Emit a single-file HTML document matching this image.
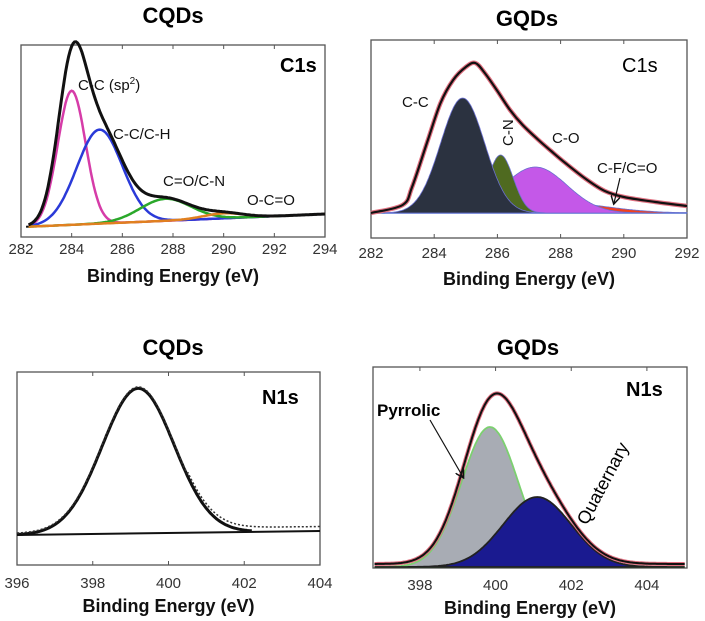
<!DOCTYPE html>
<html><head><meta charset="utf-8"><style>
body{margin:0;background:#fff;width:705px;height:621px;overflow:hidden}
svg{display:block;font-family:"Liberation Sans",sans-serif}
.t{font-weight:bold;font-size:22px;text-anchor:middle}
.ax{font-weight:bold;font-size:18px;text-anchor:middle;fill:#111}
.tk{font-size:15px;fill:#333;text-anchor:middle}
.an{font-size:15px;fill:#111}
</style></head><body>
<svg id="fig" width="705" height="621" viewBox="0 0 705 621">
<defs><marker id="ah" markerWidth="8" markerHeight="8" refX="6" refY="4" orient="auto"><path d="M0,0 L7,4 L0,8" fill="none" stroke="#111" stroke-width="1.2"/></marker></defs>
<text class="t" x="173" y="23">CQDs</text>
<text class="t" x="527" y="26">GQDs</text>
<text class="t" x="173" y="355">CQDs</text>
<text class="t" x="528" y="355">GQDs</text>
<g id="p1"></g><g id="p2"></g><g id="p3"></g><g id="p4"></g>
<text class="an" x="78" y="90">C-C (sp<tspan dy="-6" font-size="10">2</tspan><tspan dy="6">)</tspan></text>
<text class="an" x="113" y="139">C-C/C-H</text>
<text class="an" x="163" y="186">C=O/C-N</text>
<text class="an" x="247" y="205">O-C=O</text>
<text x="280" y="72" font-weight="bold" font-size="20">C1s</text>
<text x="622" y="72" font-size="20">C1s</text>
<text class="an" x="402" y="107">C-C</text>
<text class="an" transform="translate(513,146) rotate(-90)">C-N</text>
<text class="an" x="552" y="143">C-O</text>
<text class="an" x="597" y="173">C-F/C=O</text>
<line x1="620" y1="178" x2="614" y2="203" stroke="#111" stroke-width="1.2" marker-end="url(#ah)"/>
<text x="262" y="404" font-weight="bold" font-size="20">N1s</text>
<text x="626" y="396" font-weight="bold" font-size="20">N1s</text>
<text x="377" y="416" font-weight="bold" font-size="17">Pyrrolic</text>
<line x1="430" y1="420" x2="463" y2="477" stroke="#111" stroke-width="1.2" marker-end="url(#ah)"/>
<text font-size="18" transform="translate(587,526) rotate(-62)">Quaternary</text>
</svg>
<script>
// Panel 1: CQDs C1s components [center eV, height, sigma]
const p1Centers=[284.0,285.1,287.7,290.0];
const p1Heights=[134,94,22,5];
const p1Sigmas=[0.55,0.9,1.0,0.8];
const p1Colors=["#d63ca8","#2a3ad8","#2aa82a","#e08020"];
const p1Ticks=[282,284,286,288,290,292,294];
// Panel 2: GQDs C1s
const p2Centers=[284.9,286.1,287.2,288.0];
const p2Heights=[115,58,46,10];
const p2Sigmas=[0.7,0.4,1.0,1.5];
const p2Fill=["#2b3240","#4f6a20","#c458e8","#f04020"];
const p2EnvE=[282,283,283.3,283.8,284.2,284.6,285.0,285.3,285.6,286.0,286.4,286.8,287.3,287.7,288.15,288.8,289.4,290,291,292];
const p2EnvH=[0,8,26,73,110,133,146,150,140,122,103,88,73,62,50,34,22,16,11,7];
const p2Ticks=[282,284,286,288,290,292];
// Panel 3: CQDs N1s
const p3Centers=[399.2];const p3Heights=[145];const p3Sigmas=[0.95];
const p3Ticks=[396,398,400,402,404];
// Panel 4: GQDs N1s
const p4Centers=[399.85,401.1];const p4Heights=[140,70];const p4Sigmas=[0.75,0.9];
const p4Ticks=[398,400,402,404];

const NS="http://www.w3.org/2000/svg";
function mk(g,tag,at){const e=document.createElementNS(NS,tag);for(const k in at)e.setAttribute(k,at[k]);g.appendChild(e);return e;}
function gau(x,c,h,s){return h*Math.exp(-(x-c)*(x-c)/(2*s*s));}
function panel(id,box,xr,ticks,tickY,axY){
  const g=document.getElementById(id);
  const sx=v=>box[0]+(v-xr[0])/(xr[1]-xr[0])*(box[2]-box[0]);
  const r=mk(g,'rect',{x:box[0],y:box[1],width:box[2]-box[0],height:box[3]-box[1],fill:'none',stroke:'#555','stroke-width':1.3});
  
  
  ticks.forEach(t=>{
    const tx=mk(g,'text',{class:'tk',x:sx(t),y:tickY});tx.textContent=t;
    
    
    mk(g,'line',{x1:sx(t),x2:sx(t),y1:box[3],y2:box[3]-4,stroke:'#555'});
    mk(g,'line',{x1:sx(t),x2:sx(t),y1:box[1],y2:box[1]+4,stroke:'#555'});
  });
  const a=mk(g,'text',{class:'ax',x:(box[0]+box[2])/2,y:axY});a.textContent='Binding Energy (eV)';
  
  
  return {g,sx};
}
function pts(sx,x0,x1,fy){let p=[];for(let i=0;i<=200;i++){const x=x0+(x1-x0)*i/200;p.push(sx(x).toFixed(1)+','+fy(x).toFixed(1));}return p;}
function smooth(P){let d='M'+P[0][0]+','+P[0][1];for(let i=0;i<P.length-1;i++){const p0=P[Math.max(0,i-1)],p1=P[i],p2=P[i+1],p3=P[Math.min(P.length-1,i+2)];
 d+=' C'+(p1[0]+(p2[0]-p0[0])/6)+','+(p1[1]+(p2[1]-p0[1])/6)+' '+(p2[0]-(p3[0]-p1[0])/6)+','+(p2[1]-(p3[1]-p1[1])/6)+' '+p2[0]+','+p2[1];}return d;}

// P1
(function(){const {g,sx}=panel('p1',[21,45,325,237],[282,294],p1Ticks,254,282);
 const base=x=>227-(x-282)/12*13;
 mk(g,'line',{x1:sx(282.2),y1:base(282.2),x2:sx(294),y2:base(294),stroke:'#111','stroke-width':2});
 p1Centers.forEach((c,i)=>{const l=mk(g,'polyline',{points:pts(sx,282.3,294,x=>base(x)-gau(x,c,p1Heights[i],p1Sigmas[i])).join(' '),fill:'none',stroke:p1Colors[i],'stroke-width':2.5});
  
  });
 const env=mk(g,'polyline',{points:pts(sx,282.3,294,x=>base(x)-p1Centers.reduce((s,c,i)=>s+gau(x,c,p1Heights[i],p1Sigmas[i]),0)).join(' '),fill:'none',stroke:'#111','stroke-width':3});
 
 
})();
// P2
(function(){const {g,sx}=panel('p2',[371,40,687,238],[282,292],p2Ticks,258,285);
 const b=213;
 mk(g,'line',{x1:sx(282),y1:b,x2:sx(292),y2:b,stroke:'#3a6ad0','stroke-width':1.5});
 [3,2,1,0].forEach(i=>{const c=p2Centers[i];const s=p2Sigmas[i];
  const p=pts(sx,Math.max(282,c-3.5*s),Math.min(292,c+3.5*s),x=>b-gau(x,c,p2Heights[i],s));
  const el=mk(g,'polygon',{points:sx(Math.max(282,c-3.5*s))+','+b+' '+p.join(' ')+' '+sx(Math.min(292,c+3.5*s))+','+b,fill:p2Fill[i],stroke:'#6a70d0','stroke-width':0.8});
  
  });
 const d=smooth(p2EnvE.map((e,i)=>[sx(e),b-p2EnvH[i]]));
 const env=mk(g,'path',{d:d,fill:'none',stroke:'#e07080','stroke-width':4.5});
 mk(g,'path',{d:d,fill:'none',stroke:'#111','stroke-width':2.2});
 
 
})();
// P3
(function(){const {g,sx}=panel('p3',[17,372,320,565],[396,404],p3Ticks,588,612);
 const base=x=>535-(x-396)/8*4;
 mk(g,'line',{x1:sx(396),y1:base(396),x2:sx(404),y2:base(404),stroke:'#111','stroke-width':2});
 const f=x=>base(x)-gau(x,p3Centers[0],p3Heights[0],p3Sigmas[0]);
 const l=mk(g,'polyline',{points:pts(sx,396,402.2,f).join(' '),fill:'none',stroke:'#111','stroke-width':3});
 
 
 const d=mk(g,'polyline',{points:pts(sx,396,404,x=>f(x)-1.5-(x>400.5?3:0)).join(' '),fill:'none',stroke:'#333','stroke-width':1.5,'stroke-dasharray':'2,2'});
 
 
})();
// P4
(function(){const {g,sx}=panel('p4',[373,367,687,568],[396.76,405.06],p4Ticks,590,614);
 const b=567;const fills=['#a8acb4','#1a1a90'];const strokes=['#7cd070','#222'];
 p4Centers.forEach((c,i)=>{const p=pts(sx,396.8,405,x=>b-gau(x,c,p4Heights[i],p4Sigmas[i]));
  const el=mk(g,'polygon',{points:sx(396.8)+','+b+' '+p.join(' ')+' '+sx(405)+','+b,fill:fills[i],stroke:strokes[i],'stroke-width':1.8});
  
  });
 const ep=pts(sx,396.8,405,x=>b-3-p4Centers.reduce((s,c,i)=>s+gau(x,c,p4Heights[i],p4Sigmas[i]),0)).join(' ');
 mk(g,'polyline',{points:ep,fill:'none',stroke:'#e07080','stroke-width':4});
 const env=mk(g,'polyline',{points:ep,fill:'none',stroke:'#111','stroke-width':2});
 
 
})();
</script>
</body></html>
